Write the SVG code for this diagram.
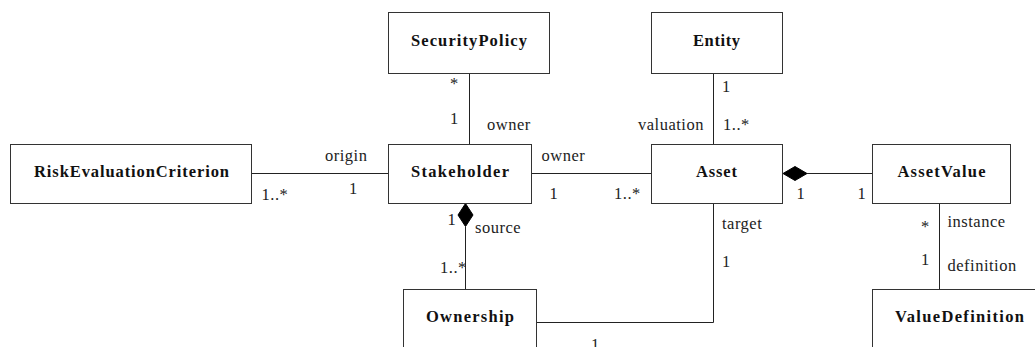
<svg xmlns="http://www.w3.org/2000/svg" width="1035" height="347" viewBox="0 0 1035 347">
<style>
.box{fill:#fff;stroke:#333;stroke-width:1}
.name{font-family:'Liberation Serif','Times New Roman',serif;font-weight:bold;font-size:16.5px;fill:#111;text-anchor:middle}
.lbl{font-family:'Liberation Serif','Times New Roman',serif;font-size:16.5px;fill:#222;letter-spacing:0.5px}
.mid{text-anchor:middle;letter-spacing:0}
.ln{fill:none;stroke:#222;stroke-width:1}
.dia{fill:#000;stroke:#000;stroke-width:1}
</style>
<rect width="1035" height="347" fill="#fff"/>
<g id="connectors">
  <line class="ln" x1="469.5" y1="73.5" x2="469.5" y2="144.5"/>
  <line class="ln" x1="251.5" y1="173.5" x2="388.5" y2="173.5"/>
  <line class="ln" x1="531.5" y1="173.5" x2="651.5" y2="173.5"/>
  <line class="ln" x1="713.5" y1="73.5" x2="713.5" y2="144.5"/>
  <line class="ln" x1="807" y1="173.5" x2="872.5" y2="173.5"/>
  <polygon class="dia" points="783,173.5 795,166.5 807,173.5 795,180.5"/>
  <line class="ln" x1="465.5" y1="227" x2="465.5" y2="289.5"/>
  <polygon class="dia" points="465.5,203.5 473,215 465.5,226.5 458,215"/>
  <polyline class="ln" points="713.5,203.5 713.5,322.5 536.5,322.5"/>
  <line class="ln" x1="939.5" y1="203.5" x2="939.5" y2="289.5"/>
  <text class="lbl mid" x="454" y="89">*</text>
  <text class="lbl mid" x="454" y="124">1</text>
  <text class="lbl" x="487" y="130">owner</text>
  <text class="lbl" x="325" y="160.5">origin</text>
  <text class="lbl" x="261.5" y="200">1..*</text>
  <text class="lbl mid" x="353" y="194">1</text>
  <text class="lbl" x="541.5" y="160.5">owner</text>
  <text class="lbl mid" x="553.5" y="199">1</text>
  <text class="lbl" x="614" y="199">1..*</text>
  <text class="lbl mid" x="726" y="92">1</text>
  <text class="lbl" x="723" y="130">1..*</text>
  <text class="lbl" x="638" y="130">valuation</text>
  <text class="lbl mid" x="800.5" y="199">1</text>
  <text class="lbl mid" x="861.5" y="199">1</text>
  <text class="lbl" x="722" y="229">target</text>
  <text class="lbl mid" x="726" y="266.5">1</text>
  <text class="lbl mid" x="451.5" y="225">1</text>
  <text class="lbl" x="475" y="233">source</text>
  <text class="lbl" x="440" y="273">1..*</text>
  <text class="lbl mid" x="595" y="350">1</text>
  <text class="lbl mid" x="925" y="232">*</text>
  <text class="lbl mid" x="925" y="265">1</text>
  <text class="lbl" x="947.5" y="227">instance</text>
  <text class="lbl" x="947.5" y="270.5">definition</text>
</g>
<g id="SecurityPolicy"><rect class="box" x="388.5" y="12.5" width="161" height="61"/><text class="name" x="469" y="46" textLength="116" lengthAdjust="spacing">SecurityPolicy</text></g>
<g id="Entity"><rect class="box" x="651.5" y="12.5" width="131" height="61"/><text class="name" x="716.5" y="46" textLength="47" lengthAdjust="spacing">Entity</text></g>
<g id="RiskEvaluationCriterion"><rect class="box" x="10.5" y="144.5" width="241" height="59"/><text class="name" x="131.5" y="177" textLength="195" lengthAdjust="spacing">RiskEvaluationCriterion</text></g>
<g id="Stakeholder"><rect class="box" x="388.5" y="144.5" width="143" height="59"/><text class="name" x="460" y="177" textLength="98" lengthAdjust="spacing">Stakeholder</text></g>
<g id="Asset"><rect class="box" x="651.5" y="144.5" width="131" height="59"/><text class="name" x="716.5" y="177" textLength="41" lengthAdjust="spacing">Asset</text></g>
<g id="AssetValue"><rect class="box" x="872.5" y="144.5" width="138" height="59"/><text class="name" x="941.5" y="177" textLength="88" lengthAdjust="spacing">AssetValue</text></g>
<g id="Ownership"><rect class="box" x="403.5" y="289.5" width="133" height="70"/><text class="name" x="470" y="321.5" textLength="88" lengthAdjust="spacing">Ownership</text></g>
<g id="ValueDefinition"><rect class="box" x="872.5" y="289.5" width="180" height="70"/><text class="name" x="959.5" y="321.5" textLength="129" lengthAdjust="spacing">ValueDefinition</text></g>
</svg>
